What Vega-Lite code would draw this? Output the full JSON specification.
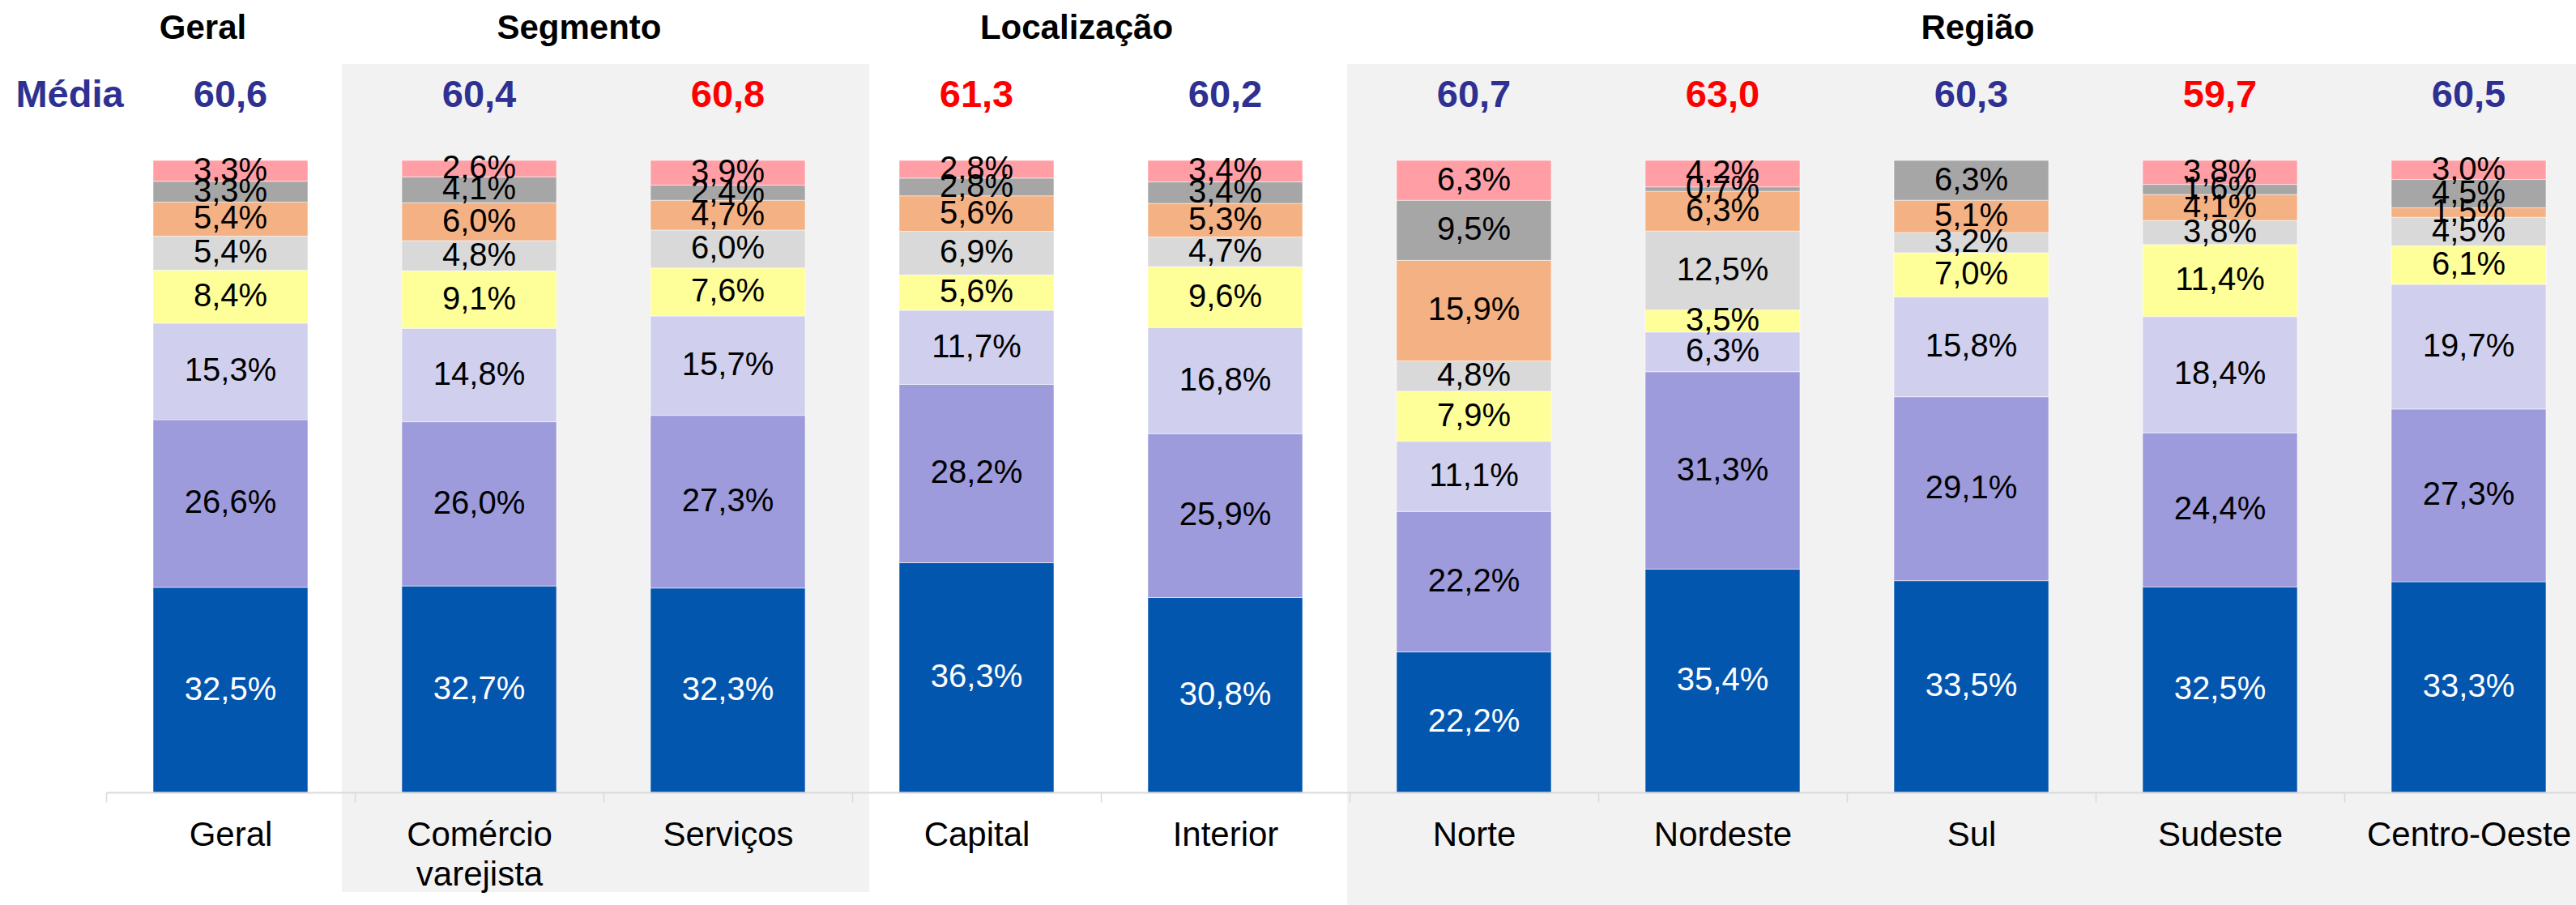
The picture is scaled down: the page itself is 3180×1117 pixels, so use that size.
{
  "$schema": "https://vega.github.io/schema/vega-lite/v6.json",
  "width": 3049,
  "height": 780,
  "autosize": {"type": "none"},
  "padding": {"left": 131, "top": 198, "right": 0, "bottom": 139},
  "background": "#ffffff",
  "config": {
    "view": {"stroke": null},
    "font": "Liberation Sans",
    "locale": {"number": {"decimal": ",", "thousands": ".", "grouping": [3], "currency": ["R$", ""]}},
    "axisX": {
      "title": null, "labelAngle": 0, "tickBand": "extent", "tickSize": 12, "tickWidth": 1.5, "tickColor": "#D9D9D9",
      "domainColor": "#D9D9D9", "domainWidth": 2, "labelFontSize": 42, "labelColor": "#000000", "labelFont": "Liberation Sans",
      "labelPadding": 20, "labelLineHeight": 49, "labelLimit": 400, "grid": false
    }
  },
  "resolve": {"scale": {"color": "independent"}},
  "datasets": {
    "barras": [
      {"cat": "Geral", "k": 1, "v": 0.325}, {"cat": "Geral", "k": 2, "v": 0.266}, {"cat": "Geral", "k": 3, "v": 0.153}, {"cat": "Geral", "k": 4, "v": 0.084},
      {"cat": "Geral", "k": 5, "v": 0.054}, {"cat": "Geral", "k": 6, "v": 0.054}, {"cat": "Geral", "k": 7, "v": 0.033}, {"cat": "Geral", "k": 8, "v": 0.033},
      {"cat": "Comércio varejista", "k": 1, "v": 0.327}, {"cat": "Comércio varejista", "k": 2, "v": 0.260}, {"cat": "Comércio varejista", "k": 3, "v": 0.148}, {"cat": "Comércio varejista", "k": 4, "v": 0.091},
      {"cat": "Comércio varejista", "k": 5, "v": 0.048}, {"cat": "Comércio varejista", "k": 6, "v": 0.060}, {"cat": "Comércio varejista", "k": 7, "v": 0.041}, {"cat": "Comércio varejista", "k": 8, "v": 0.026},
      {"cat": "Serviços", "k": 1, "v": 0.323}, {"cat": "Serviços", "k": 2, "v": 0.273}, {"cat": "Serviços", "k": 3, "v": 0.157}, {"cat": "Serviços", "k": 4, "v": 0.076},
      {"cat": "Serviços", "k": 5, "v": 0.060}, {"cat": "Serviços", "k": 6, "v": 0.047}, {"cat": "Serviços", "k": 7, "v": 0.024}, {"cat": "Serviços", "k": 8, "v": 0.039},
      {"cat": "Capital", "k": 1, "v": 0.363}, {"cat": "Capital", "k": 2, "v": 0.282}, {"cat": "Capital", "k": 3, "v": 0.117}, {"cat": "Capital", "k": 4, "v": 0.056},
      {"cat": "Capital", "k": 5, "v": 0.069}, {"cat": "Capital", "k": 6, "v": 0.056}, {"cat": "Capital", "k": 7, "v": 0.028}, {"cat": "Capital", "k": 8, "v": 0.028},
      {"cat": "Interior", "k": 1, "v": 0.308}, {"cat": "Interior", "k": 2, "v": 0.259}, {"cat": "Interior", "k": 3, "v": 0.168}, {"cat": "Interior", "k": 4, "v": 0.096},
      {"cat": "Interior", "k": 5, "v": 0.047}, {"cat": "Interior", "k": 6, "v": 0.053}, {"cat": "Interior", "k": 7, "v": 0.034}, {"cat": "Interior", "k": 8, "v": 0.034},
      {"cat": "Norte", "k": 1, "v": 0.222}, {"cat": "Norte", "k": 2, "v": 0.222}, {"cat": "Norte", "k": 3, "v": 0.111}, {"cat": "Norte", "k": 4, "v": 0.079},
      {"cat": "Norte", "k": 5, "v": 0.048}, {"cat": "Norte", "k": 6, "v": 0.159}, {"cat": "Norte", "k": 7, "v": 0.095}, {"cat": "Norte", "k": 8, "v": 0.063},
      {"cat": "Nordeste", "k": 1, "v": 0.354}, {"cat": "Nordeste", "k": 2, "v": 0.313}, {"cat": "Nordeste", "k": 3, "v": 0.063}, {"cat": "Nordeste", "k": 4, "v": 0.035},
      {"cat": "Nordeste", "k": 5, "v": 0.125}, {"cat": "Nordeste", "k": 6, "v": 0.063}, {"cat": "Nordeste", "k": 7, "v": 0.007}, {"cat": "Nordeste", "k": 8, "v": 0.042},
      {"cat": "Sul", "k": 1, "v": 0.335}, {"cat": "Sul", "k": 2, "v": 0.291}, {"cat": "Sul", "k": 3, "v": 0.158}, {"cat": "Sul", "k": 4, "v": 0.070},
      {"cat": "Sul", "k": 5, "v": 0.032}, {"cat": "Sul", "k": 6, "v": 0.051}, {"cat": "Sul", "k": 7, "v": 0.063},
      {"cat": "Sudeste", "k": 1, "v": 0.325}, {"cat": "Sudeste", "k": 2, "v": 0.244}, {"cat": "Sudeste", "k": 3, "v": 0.184}, {"cat": "Sudeste", "k": 4, "v": 0.114},
      {"cat": "Sudeste", "k": 5, "v": 0.038}, {"cat": "Sudeste", "k": 6, "v": 0.041}, {"cat": "Sudeste", "k": 7, "v": 0.016}, {"cat": "Sudeste", "k": 8, "v": 0.038},
      {"cat": "Centro-Oeste", "k": 1, "v": 0.333}, {"cat": "Centro-Oeste", "k": 2, "v": 0.273}, {"cat": "Centro-Oeste", "k": 3, "v": 0.197}, {"cat": "Centro-Oeste", "k": 4, "v": 0.061},
      {"cat": "Centro-Oeste", "k": 5, "v": 0.045}, {"cat": "Centro-Oeste", "k": 6, "v": 0.015}, {"cat": "Centro-Oeste", "k": 7, "v": 0.045}, {"cat": "Centro-Oeste", "k": 8, "v": 0.030}
    ],
    "medias": [
      {"cat": "Geral", "media": 60.6, "destaque": "não"},
      {"cat": "Comércio varejista", "media": 60.4, "destaque": "não"},
      {"cat": "Serviços", "media": 60.8, "destaque": "sim"},
      {"cat": "Capital", "media": 61.3, "destaque": "sim"},
      {"cat": "Interior", "media": 60.2, "destaque": "não"},
      {"cat": "Norte", "media": 60.7, "destaque": "não"},
      {"cat": "Nordeste", "media": 63.0, "destaque": "sim"},
      {"cat": "Sul", "media": 60.3, "destaque": "não"},
      {"cat": "Sudeste", "media": 59.7, "destaque": "sim"},
      {"cat": "Centro-Oeste", "media": 60.5, "destaque": "não"}
    ]
  },
  "layer": [
    {
      "data": {"values": [{"cat": "Comércio varejista", "cat2": "Serviços"}]},
      "mark": {"type": "rect", "color": "#F2F2F2", "xOffset": -16, "x2Offset": 21},
      "encoding": {
        "x": {"field": "cat", "type": "nominal", "bandPosition": 0, "title": null},
        "x2": {"field": "cat2", "bandPosition": 1},
        "y": {"datum": 1.1526, "type": "quantitative", "scale": {"domain": [0, 1], "nice": false}, "axis": null},
        "y2": {"datum": -0.1577}
      }
    },
    {
      "data": {"values": [{"cat": "Norte", "cat2": "Centro-Oeste"}]},
      "mark": {"type": "rect", "color": "#F2F2F2", "xOffset": -3},
      "encoding": {
        "x": {"field": "cat", "type": "nominal", "bandPosition": 0, "title": null},
        "x2": {"field": "cat2", "bandPosition": 1},
        "y": {"datum": 1.1526, "type": "quantitative", "scale": {"domain": [0, 1], "nice": false}, "axis": null},
        "y2": {"datum": -0.25}
      }
    },
    {
      "data": {"name": "barras"},
      "mark": {"type": "bar", "width": {"band": 0.622}, "stroke": "#ffffff", "strokeWidth": 1, "strokeOpacity": 0.5},
      "encoding": {
        "x": {
          "field": "cat", "type": "nominal", "title": null,
          "scale": {"domain": ["Geral", "Comércio varejista", "Serviços", "Capital", "Interior", "Norte", "Nordeste", "Sul", "Sudeste", "Centro-Oeste"], "range": [0, 3070], "paddingInner": 0, "paddingOuter": 0},
          "axis": {
            "labelExpr": "datum.label == 'Comércio varejista' ? ['Comércio', 'varejista'] : datum.label"
          }
        },
        "y": {"field": "v", "type": "quantitative", "stack": "normalize", "scale": {"domain": [0, 1], "nice": false}, "axis": null},
        "color": {
          "field": "k", "type": "ordinal",
          "scale": {"domain": [1, 2, 3, 4, 5, 6, 7, 8], "range": ["#0356AE", "#9D9BDB", "#D0D0EE", "#FFFF99", "#D9D9D9", "#F4B183", "#A6A6A6", "#FF9EA5"]},
          "legend": null
        },
        "order": {"field": "k", "type": "quantitative"}
      }
    },
    {
      "data": {"name": "barras"},
      "mark": {"type": "text", "fontSize": 40, "align": "center", "baseline": "middle", "font": "Liberation Sans"},
      "encoding": {
        "x": {"field": "cat", "type": "nominal", "title": null},
        "y": {"field": "v", "type": "quantitative", "stack": "normalize", "bandPosition": 0.5, "scale": {"domain": [0, 1], "nice": false}, "axis": null},
        "detail": {"field": "k", "type": "ordinal"},
        "order": {"field": "k", "type": "quantitative"},
        "text": {"field": "v", "type": "quantitative", "format": ".1%"},
        "color": {"condition": {"test": "datum.k === 1", "value": "#ffffff"}, "value": "#000000"}
      }
    },
    {
      "data": {"name": "medias"},
      "mark": {"type": "text", "fontSize": 47, "fontWeight": "bold", "align": "center", "baseline": "alphabetic", "font": "Liberation Sans"},
      "encoding": {
        "x": {"field": "cat", "type": "nominal", "title": null},
        "y": {"datum": 1.0846, "type": "quantitative", "scale": {"domain": [0, 1], "nice": false}, "axis": null},
        "text": {"field": "media", "type": "quantitative", "format": ".1f"},
        "color": {"field": "destaque", "type": "nominal", "scale": {"domain": ["sim", "não"], "range": ["#FF0000", "#2E3192"]}, "legend": null}
      }
    },
    {
      "data": {"values": [{"cat": "Geral", "rotulo": "Média"}]},
      "mark": {"type": "text", "fontSize": 47, "fontWeight": "bold", "align": "center", "baseline": "alphabetic", "dx": -45, "color": "#2E3192", "font": "Liberation Sans"},
      "encoding": {
        "x": {"field": "cat", "type": "nominal", "bandPosition": 0, "title": null},
        "y": {"datum": 1.0846, "type": "quantitative", "scale": {"domain": [0, 1], "nice": false}, "axis": null},
        "text": {"field": "rotulo"}
      }
    },
    {
      "data": {"values": [{"cat": "Geral", "grupo": "Geral"}]},
      "mark": {"type": "text", "fontSize": 42, "fontWeight": "bold", "align": "center", "baseline": "alphabetic", "dx": -34, "color": "#000000", "font": "Liberation Sans"},
      "encoding": {
        "x": {"field": "cat", "type": "nominal", "title": null},
        "y": {"datum": 1.1923, "type": "quantitative", "scale": {"domain": [0, 1], "nice": false}, "axis": null},
        "text": {"field": "grupo"}
      }
    },
    {
      "data": {"values": [{"cat": "Sul", "grupo": "Região"}]},
      "mark": {"type": "text", "fontSize": 42, "fontWeight": "bold", "align": "center", "baseline": "alphabetic", "dx": 8, "color": "#000000", "font": "Liberation Sans"},
      "encoding": {
        "x": {"field": "cat", "type": "nominal", "title": null},
        "y": {"datum": 1.1923, "type": "quantitative", "scale": {"domain": [0, 1], "nice": false}, "axis": null},
        "text": {"field": "grupo"}
      }
    },
    {
      "data": {"values": [{"cat": "Serviços", "grupo": "Segmento"}, {"cat": "Interior", "grupo": "Localização"}]},
      "mark": {"type": "text", "fontSize": 42, "fontWeight": "bold", "align": "center", "baseline": "alphabetic", "dx": -30, "color": "#000000", "font": "Liberation Sans"},
      "encoding": {
        "x": {"field": "cat", "type": "nominal", "bandPosition": 0, "title": null},
        "y": {"datum": 1.1923, "type": "quantitative", "scale": {"domain": [0, 1], "nice": false}, "axis": null},
        "text": {"field": "grupo"}
      }
    }
  ]
}
